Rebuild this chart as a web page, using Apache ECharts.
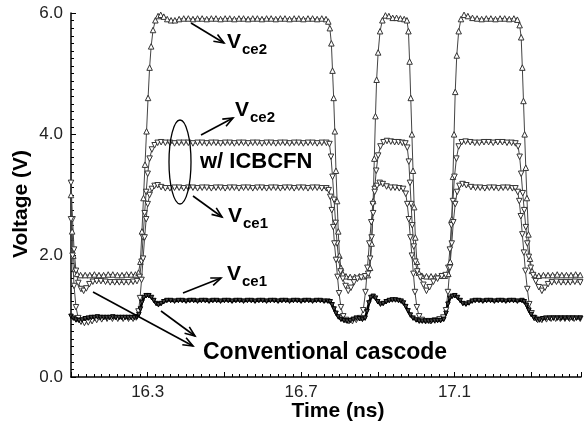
<!DOCTYPE html>
<html><head><meta charset="utf-8">
<script src="https://cdn.jsdelivr.net/npm/echarts@6/dist/echarts.min.js"></script>
<style>html,body{margin:0;padding:0;background:#fff}#c{width:584px;height:434px}</style>
</head><body><div id="c"></div>
<script>
// ---- data (time in ns, voltage in V) ----
const xTickLabels = ['16.3', '16.7', '17.1'];
const yTickLabels = ['0.0', '2.0', '4.0', '6.0'];

// Conventional cascode Vce2 (up triangles)
const convVce2 = [
[16.100,3.00],[16.103,2.40],[16.106,2.00],[16.110,1.78],[16.116,1.70],[16.125,1.68],[16.137,1.68],[16.149,1.68],[16.161,1.69],[16.173,1.68],[16.185,1.68],[16.197,1.69],[16.209,1.69],[16.221,1.68],[16.233,1.68],[16.245,1.69],[16.257,1.69],[16.268,1.69],[16.276,1.72],[16.281,1.90],[16.285,2.40],[16.289,2.95],[16.293,3.50],[16.297,4.05],[16.301,4.60],[16.305,5.10],[16.309,5.45],[16.314,5.72],[16.320,5.88],[16.327,5.95],[16.334,5.97],[16.342,5.94],[16.351,5.90],[16.361,5.88],[16.371,5.88],[16.382,5.90],[16.394,5.91],
[16.406,5.91],[16.418,5.90],[16.430,5.91],[16.442,5.91],[16.454,5.90],[16.466,5.91],[16.478,5.91],[16.490,5.90],[16.502,5.91],[16.514,5.91],[16.526,5.90],[16.538,5.91],[16.550,5.91],[16.562,5.90],[16.574,5.91],[16.586,5.91],[16.598,5.90],[16.610,5.91],[16.622,5.91],[16.634,5.90],[16.646,5.91],[16.658,5.91],[16.670,5.90],[16.682,5.91],[16.694,5.91],[16.706,5.90],[16.718,5.91],[16.730,5.91],[16.742,5.90],[16.754,5.91],[16.765,5.90],
[16.771,5.86],[16.775,5.75],[16.779,5.50],[16.782,5.05],[16.785,4.60],[16.788,4.05],[16.791,3.40],[16.794,2.90],[16.797,2.40],[16.800,2.00],[16.804,1.80],[16.809,1.70],[16.817,1.66],[16.828,1.65],[16.840,1.65],[16.852,1.66],[16.864,1.66],[16.874,1.68],[16.880,1.80],[16.884,2.20],[16.888,2.90],[16.891,3.60],[16.894,4.30],[16.897,4.90],[16.901,5.35],[16.906,5.70],[16.912,5.88],[16.920,5.96],[16.929,5.95],[16.939,5.92],[16.949,5.92],[16.959,5.91],[16.969,5.90],[16.976,5.88],[16.980,5.70],[16.983,5.20],[16.986,4.60],[16.989,4.00],[16.992,3.40],[16.995,2.80],[16.998,2.30],[17.002,1.90],[17.007,1.72],[17.015,1.67],[17.027,1.66],[17.039,1.66],[17.051,1.66],[17.063,1.67],[17.075,1.67],[17.084,1.70],[17.089,1.90],[17.093,2.60],[17.096,3.30],[17.099,4.00],[17.102,4.70],[17.106,5.30],[17.111,5.70],[17.117,5.90],[17.125,5.97],[17.135,5.95],[17.147,5.92],[17.159,5.91],[17.171,5.90],[17.183,5.91],[17.195,5.91],[17.207,5.90],[17.219,5.91],[17.231,5.91],[17.243,5.90],[17.255,5.91],[17.264,5.89],[17.270,5.80],[17.274,5.60],[17.277,5.10],[17.280,4.55],[17.283,4.00],[17.286,3.45],[17.289,2.95],[17.293,2.35],[17.297,1.95],[17.302,1.75],[17.309,1.68],[17.320,1.67],[17.332,1.68],[17.344,1.68],[17.356,1.68],[17.368,1.69],[17.380,1.68],[17.392,1.68],[17.404,1.68],[17.416,1.69],[17.428,1.68]
];

// w/ ICBCFN Vce2 (down triangles)
const icbVce2 = [
[16.100,3.20],[16.104,2.60],[16.108,2.10],[16.113,1.75],[16.119,1.55],[16.126,1.45],[16.133,1.42],[16.140,1.46],[16.148,1.53],[16.157,1.57],[16.167,1.58],[16.178,1.58],[16.190,1.57],[16.202,1.56],[16.214,1.56],[16.226,1.56],[16.238,1.56],[16.250,1.56],[16.262,1.57],[16.272,1.58],[16.279,1.65],[16.284,1.90],[16.288,2.30],[16.292,2.70],[16.296,3.05],[16.300,3.35],[16.305,3.60],[16.311,3.75],[16.318,3.82],[16.326,3.86],[16.335,3.87],[16.346,3.86],[16.358,3.86],[16.370,3.85],[16.382,3.86],[16.394,3.86],
[16.406,3.86],[16.418,3.85],[16.430,3.86],[16.442,3.86],[16.454,3.85],[16.466,3.86],[16.478,3.86],[16.490,3.85],[16.502,3.86],[16.514,3.86],[16.526,3.85],[16.538,3.86],[16.550,3.86],[16.562,3.85],[16.574,3.86],[16.586,3.86],[16.598,3.85],[16.610,3.86],[16.622,3.86],[16.634,3.85],[16.646,3.86],[16.658,3.86],[16.670,3.85],[16.682,3.86],[16.694,3.86],[16.706,3.85],[16.718,3.86],[16.730,3.86],[16.742,3.85],[16.754,3.86],[16.766,3.86],
[16.774,3.84],[16.778,3.63],[16.782,3.30],[16.786,2.92],[16.790,2.54],[16.794,2.20],[16.798,1.93],[16.803,1.74],[16.809,1.62],[16.816,1.50],[16.823,1.42],[16.830,1.47],[16.838,1.56],[16.847,1.62],[16.857,1.64],[16.867,1.66],[16.875,1.70],[16.880,1.95],[16.884,2.30],[16.888,2.70],[16.892,3.10],[16.896,3.40],[16.901,3.65],[16.907,3.80],[16.915,3.87],[16.924,3.89],[16.934,3.88],[16.944,3.87],[16.954,3.87],[16.964,3.86],[16.972,3.85],[16.977,3.78],[16.981,3.55],[16.984,3.20],[16.987,2.85],[16.990,2.50],[16.994,2.15],[16.998,1.90],[17.003,1.74],[17.011,1.64],[17.019,1.52],[17.027,1.42],[17.035,1.48],[17.045,1.57],[17.056,1.62],[17.067,1.66],[17.077,1.68],[17.084,1.80],[17.088,2.10],[17.092,2.50],[17.096,2.90],[17.100,3.30],[17.105,3.60],[17.111,3.80],[17.119,3.87],[17.129,3.88],[17.141,3.87],[17.153,3.86],[17.165,3.86],[17.177,3.87],[17.189,3.87],[17.201,3.86],[17.213,3.87],[17.225,3.87],[17.237,3.86],[17.249,3.86],[17.259,3.85],[17.266,3.80],[17.270,3.63],[17.274,3.35],[17.278,3.03],[17.282,2.75],[17.286,2.47],[17.290,2.20],[17.294,1.98],[17.299,1.80],[17.305,1.68],[17.312,1.58],[17.320,1.48],[17.328,1.42],[17.336,1.47],[17.344,1.53],[17.354,1.56],[17.366,1.57],[17.378,1.56],[17.390,1.56],[17.402,1.56],[17.414,1.57],[17.428,1.56]
];

// w/ ICBCFN Vce1 (down triangles)
const icbVce1 = [
[16.100,2.60],[16.104,2.00],[16.108,1.50],[16.113,1.15],[16.119,0.97],[16.126,0.91],[16.135,0.89],[16.145,0.90],[16.155,0.92],[16.167,0.94],[16.180,0.95],[16.194,0.96],[16.208,0.96],[16.222,0.96],[16.236,0.96],[16.250,0.96],[16.262,0.96],[16.270,0.98],[16.276,1.08],[16.280,1.30],[16.284,1.60],[16.288,1.95],[16.292,2.30],[16.296,2.60],[16.300,2.85],[16.305,3.00],[16.311,3.10],[16.318,3.15],[16.326,3.16],[16.335,3.13],[16.346,3.11],[16.358,3.11],[16.370,3.12],[16.382,3.12],[16.394,3.11],
[16.406,3.12],[16.418,3.12],[16.430,3.11],[16.442,3.12],[16.454,3.12],[16.466,3.11],[16.478,3.12],[16.490,3.12],[16.502,3.11],[16.514,3.12],[16.526,3.12],[16.538,3.11],[16.550,3.12],[16.562,3.12],[16.574,3.11],[16.586,3.12],[16.598,3.12],[16.610,3.11],[16.622,3.12],[16.634,3.12],[16.646,3.11],[16.658,3.12],[16.670,3.12],[16.682,3.11],[16.694,3.12],[16.706,3.12],[16.718,3.11],[16.730,3.12],[16.742,3.12],[16.754,3.11],[16.766,3.11],
[16.772,3.08],[16.776,2.97],[16.780,2.75],[16.784,2.47],[16.787,2.20],[16.791,1.93],[16.795,1.65],[16.799,1.38],[16.804,1.15],[16.810,1.00],[16.817,0.94],[16.825,0.92],[16.834,0.92],[16.844,0.94],[16.854,0.97],[16.862,1.10],[16.868,1.40],[16.873,1.80],[16.878,2.20],[16.883,2.55],[16.887,2.85],[16.892,3.05],[16.898,3.15],[16.905,3.20],[16.913,3.18],[16.923,3.14],[16.934,3.12],[16.945,3.12],[16.956,3.11],[16.966,3.10],[16.973,3.02],[16.977,2.85],[16.981,2.60],[16.985,2.30],[16.989,2.00],[16.993,1.70],[16.997,1.40],[17.002,1.15],[17.008,1.00],[17.015,0.94],[17.025,0.92],[17.037,0.92],[17.049,0.93],[17.061,0.95],[17.071,0.98],[17.078,1.10],[17.083,1.40],[17.088,1.80],[17.093,2.20],[17.097,2.55],[17.102,2.85],[17.107,3.05],[17.113,3.15],[17.121,3.18],[17.131,3.16],[17.143,3.13],[17.155,3.12],[17.167,3.12],[17.179,3.11],[17.191,3.12],[17.203,3.12],[17.215,3.11],[17.227,3.12],[17.239,3.12],[17.251,3.11],[17.259,3.11],[17.265,3.05],[17.269,2.90],[17.273,2.65],[17.277,2.35],[17.281,2.05],[17.285,1.75],[17.290,1.45],[17.295,1.20],[17.301,1.05],[17.308,0.97],[17.317,0.94],[17.328,0.94],[17.340,0.95],[17.352,0.96],[17.364,0.96],[17.376,0.96],[17.388,0.96],[17.400,0.96],[17.412,0.96],[17.428,0.96]
];

// Conventional cascode Vce1 (dense, thick)
const convVce1 = [
[16.100,1.00],[16.106,0.97],[16.113,0.94],[16.121,0.93],[16.129,0.94],[16.137,0.96],[16.145,0.97],[16.153,0.98],[16.161,0.98],[16.169,0.99],[16.177,0.98],[16.185,0.98],[16.193,0.98],[16.201,0.98],[16.209,0.99],[16.217,0.98],[16.225,0.98],[16.233,0.98],[16.241,0.98],[16.249,0.98],[16.257,0.98],[16.265,0.98],[16.272,0.99],[16.277,1.03],[16.281,1.12],[16.285,1.23],[16.290,1.31],[16.296,1.34],[16.303,1.34],[16.310,1.31],[16.316,1.26],[16.322,1.21],[16.328,1.19],[16.335,1.21],[16.342,1.24],[16.350,1.26],[16.360,1.26],[16.370,1.25],
[16.380,1.26],[16.390,1.26],[16.400,1.25],[16.410,1.26],[16.420,1.26],[16.430,1.25],[16.440,1.26],[16.450,1.26],[16.460,1.25],[16.470,1.26],[16.480,1.26],[16.490,1.25],[16.500,1.26],[16.510,1.26],[16.520,1.25],[16.530,1.26],[16.540,1.26],[16.550,1.25],[16.560,1.26],[16.570,1.26],[16.580,1.25],[16.590,1.26],[16.600,1.26],[16.610,1.25],[16.620,1.26],[16.630,1.26],[16.640,1.25],[16.650,1.26],[16.660,1.26],[16.670,1.25],[16.680,1.26],[16.690,1.26],[16.700,1.25],[16.710,1.26],[16.720,1.26],[16.730,1.25],[16.740,1.26],[16.750,1.26],[16.760,1.25],[16.770,1.25],
[16.776,1.24],[16.781,1.19],[16.786,1.12],[16.791,1.05],[16.797,0.99],[16.804,0.95],[16.812,0.93],[16.820,0.92],[16.828,0.93],[16.836,0.95],[16.844,0.97],[16.852,0.96],[16.860,0.95],[16.867,0.97],[16.872,1.08],[16.877,1.22],[16.882,1.31],[16.888,1.33],[16.894,1.30],[16.900,1.24],[16.907,1.20],[16.914,1.21],[16.922,1.24],[16.930,1.26],[16.938,1.27],[16.946,1.27],[16.954,1.26],[16.961,1.25],[16.967,1.22],[16.973,1.16],[16.979,1.09],[16.985,1.02],[16.992,0.97],[17.000,0.94],[17.008,0.92],[17.016,0.92],[17.024,0.92],[17.032,0.92],[17.040,0.92],[17.048,0.93],[17.056,0.93],[17.064,0.93],[17.072,0.95],[17.078,1.05],[17.083,1.20],[17.088,1.30],[17.094,1.33],[17.101,1.34],[17.108,1.31],[17.115,1.26],[17.122,1.21],[17.130,1.20],[17.138,1.22],[17.146,1.25],[17.154,1.26],
[17.164,1.26],[17.174,1.25],[17.184,1.26],[17.194,1.26],[17.204,1.25],[17.214,1.26],[17.224,1.26],[17.234,1.25],[17.244,1.26],[17.254,1.26],[17.264,1.25],[17.276,1.26],[17.282,1.24],[17.288,1.18],[17.294,1.10],[17.300,1.03],[17.307,0.98],[17.314,0.95],[17.322,0.94],[17.330,0.96],[17.338,0.97],[17.348,0.97],[17.358,0.97],[17.368,0.97],[17.378,0.97],[17.388,0.97],[17.398,0.97],[17.408,0.97],[17.418,0.97],[17.428,0.97]
];

// ---- chart ----
const FONT = '"Liberation Sans", Arial, sans-serif';
const chart = echarts.init(document.getElementById('c'), null, {renderer: 'canvas'});

function triSeries(name, data, rotate, opts) {
  return Object.assign({
    name, type: 'line', data,
    symbol: 'triangle', symbolSize: 5.5, symbolRotate: rotate,
    showSymbol: true, showAllSymbol: true,
    lineStyle: {color: '#444', width: 1},
    itemStyle: {color: '#fff', borderColor: '#333', borderWidth: 1},
    silent: true, animation: false, z: 2
  }, opts || {});
}

function arrow(x1, y1, x2, y2) {
  const ang = Math.atan2(y2 - y1, x2 - x1);
  const L = 10, W = 4;
  const bx = x2 - L * Math.cos(ang), by = y2 - L * Math.sin(ang);
  const px = -Math.sin(ang) * W, py = Math.cos(ang) * W;
  return [
    {type: 'line', shape: {x1, y1, x2, y2}, style: {stroke: '#000', lineWidth: 1.6}, z: 10},
    {type: 'polyline', shape: {points: [[bx + px, by + py], [x2, y2], [bx - px, by - py]]},
     style: {stroke: '#000', lineWidth: 1.6, fill: null}, z: 10}
  ];
}
function txt(x, y, text, size, extra) {
  return Object.assign({type: 'text', x, y, z: 11,
    style: {text, font: 'bold ' + size + 'px ' + FONT, fill: '#000', textVerticalAlign: 'top'}}, extra || {});
}
function vlabel(x, y, sub) {
  return [txt(x, y, 'V', 21), txt(x + 15, y + 10, sub, 15)];
}

const graphic = [].concat(
  arrow(191, 23, 224, 43),
  vlabel(227, 32, 'ce2'),
  arrow(201, 135, 233, 118),
  vlabel(235, 100, 'ce2'),
  [{type: 'ellipse', shape: {cx: 180, cy: 162, rx: 11, ry: 42}, style: {stroke: '#000', lineWidth: 1.3, fill: null}, z: 10}],
  [txt(200, 151, 'w/ ICBCFN', 22)],
  arrow(193, 196, 222, 217),
  vlabel(228, 206, 'ce1'),
  arrow(183, 293, 221, 278),
  vlabel(227, 264, 'ce1'),
  arrow(93, 292, 193, 346),
  arrow(161, 311, 195, 336),
  [txt(203, 341, 'Conventional cascode', 23)],
  [{type: 'text', x: 338, y: 411, z: 11,
    style: {text: 'Time (ns)', font: 'bold 21px ' + FONT, fill: '#000', textAlign: 'center', textVerticalAlign: 'middle'}}],
  [{type: 'text', x: 21, y: 204, rotation: Math.PI / 2, z: 11,
    style: {text: 'Voltage (V)', font: 'bold 21px ' + FONT, fill: '#000', textAlign: 'center', textVerticalAlign: 'middle'}}]
);

const option = {
  backgroundColor: '#fff',
  animation: false,
  grid: {left: 71, right: 0, top: 13, bottom: 57, containLabel: false},
  xAxis: {
    type: 'value', min: 16.1, max: 17.43, interval: 0.2,
    axisLine: {show: true, lineStyle: {color: '#000', width: 1.5}},
    axisTick: {show: true, inside: true, length: 5, lineStyle: {color: '#000', width: 1}},
    minorTick: {show: true, splitNumber: 10, length: 3, lineStyle: {color: '#000', width: 1}},
    splitLine: {show: false}, minorSplitLine: {show: false},
    axisLabel: {
      margin: 7, color: '#222', fontSize: 17, fontFamily: FONT,
      formatter: v => { const s = v.toFixed(1); return xTickLabels.includes(s) ? s : ''; }
    }
  },
  yAxis: {
    type: 'value', min: 0, max: 6, interval: 2,
    axisLine: {show: true, lineStyle: {color: '#000', width: 1.5}},
    axisTick: {show: true, inside: true, length: 5, lineStyle: {color: '#000', width: 1}},
    minorTick: {show: true, splitNumber: 16, length: 3, lineStyle: {color: '#000', width: 1}},
    splitLine: {show: false}, minorSplitLine: {show: false},
    axisLabel: {
      margin: 8, color: '#222', fontSize: 17, fontFamily: FONT,
      formatter: v => { const s = v.toFixed(1); return yTickLabels.includes(s) ? s : ''; }
    }
  },
  series: [
    triSeries('Vce2 conventional', convVce2, 0),
    triSeries('Vce2 ICBCFN', icbVce2, 180),
    triSeries('Vce1 ICBCFN', icbVce1, 180),
    triSeries('Vce1 conventional', convVce1, 180, {
      symbolSize: 4.5,
      lineStyle: {color: '#000', width: 2.6},
      itemStyle: {color: '#444', borderColor: '#000', borderWidth: 1}
    })
  ],
  graphic
};
chart.setOption(option);
</script>
</body></html>
